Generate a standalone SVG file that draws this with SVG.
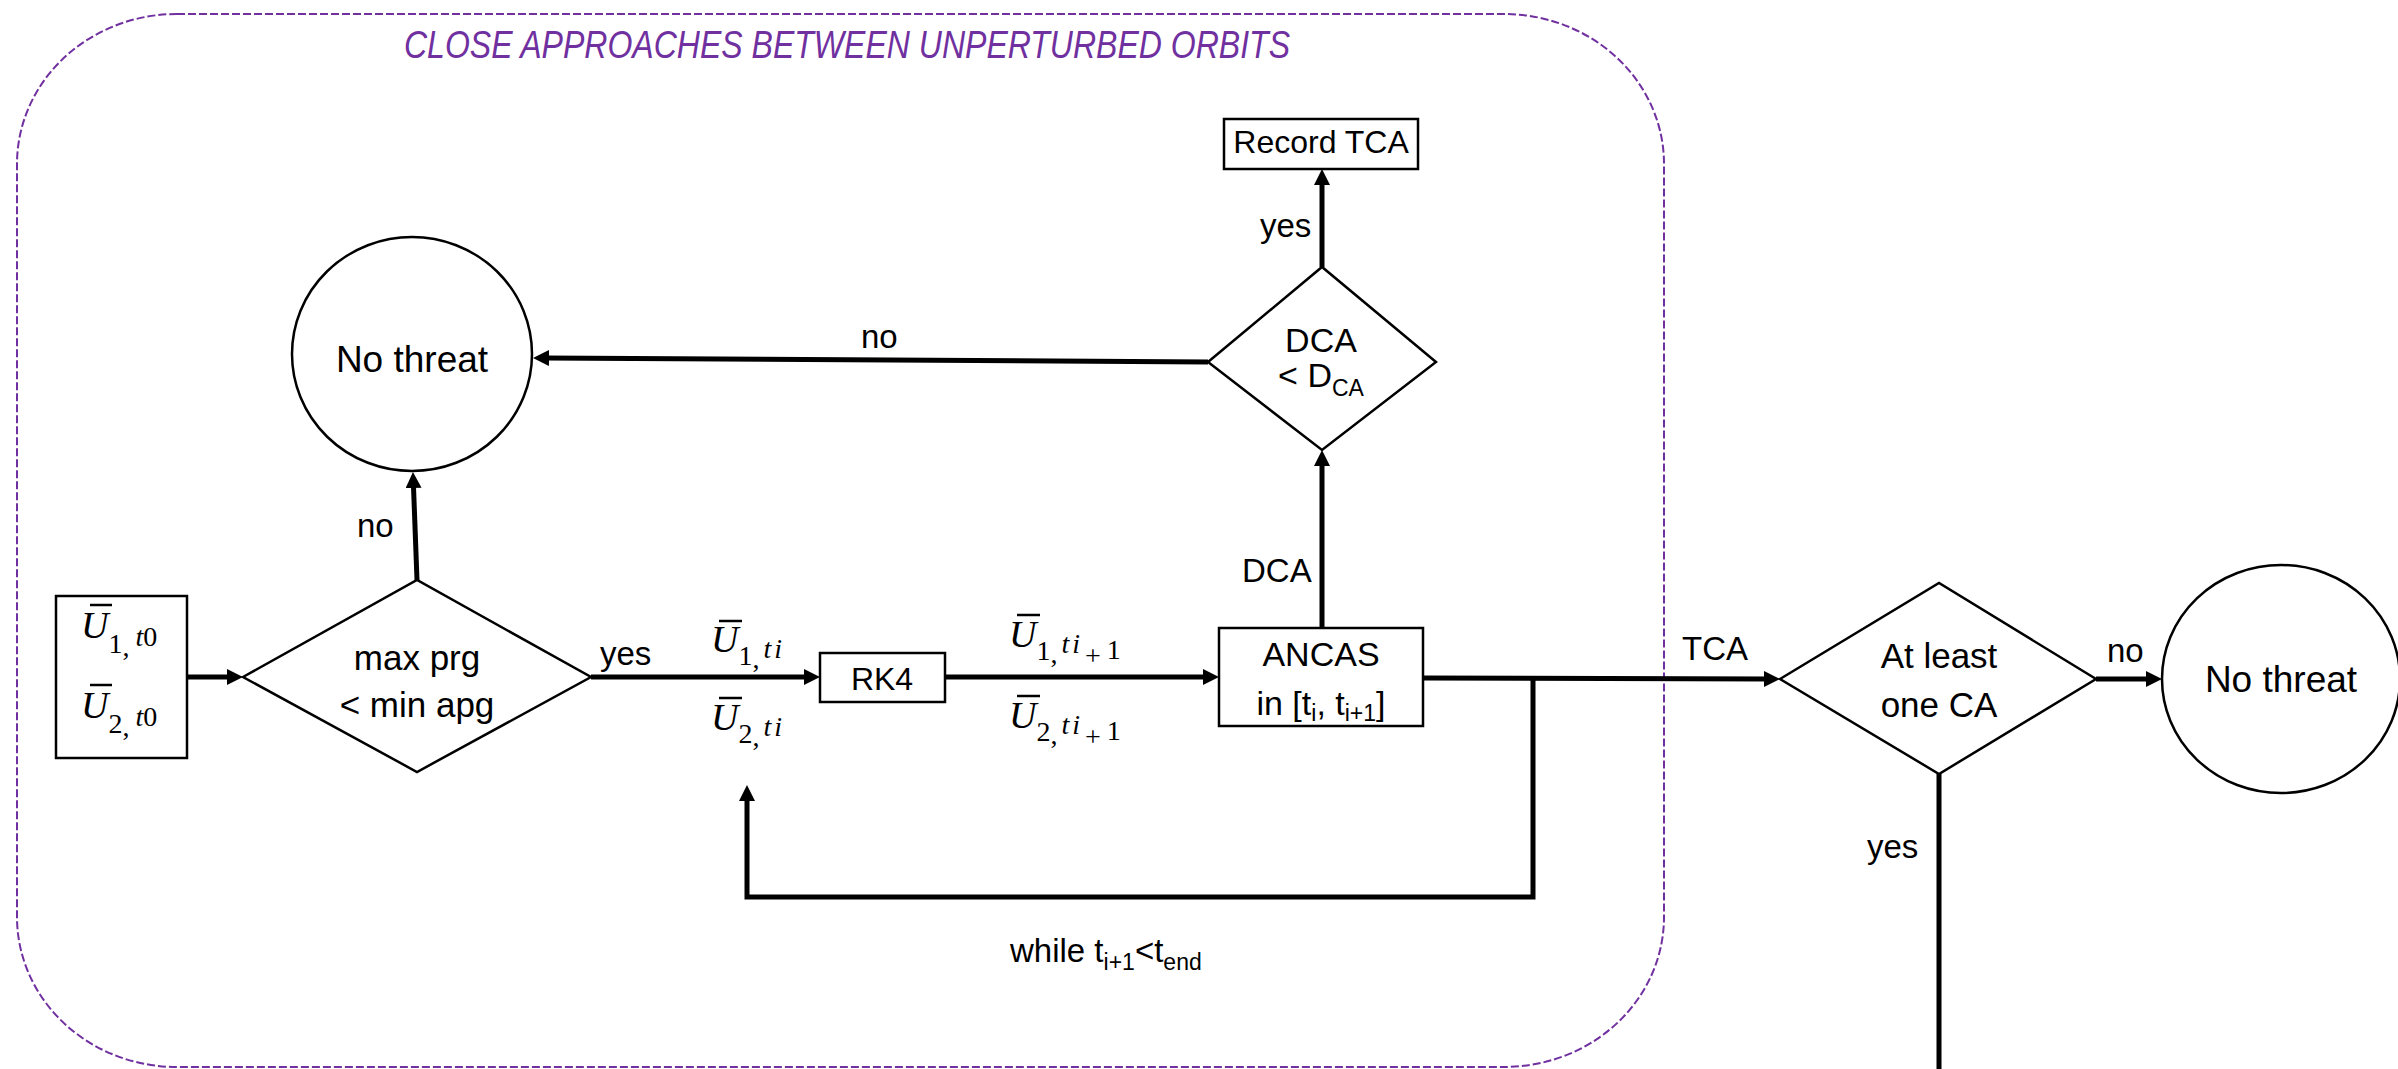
<svg xmlns="http://www.w3.org/2000/svg" width="2398" height="1069" viewBox="0 0 2398 1069">
<style>
  .t{font-family:"Liberation Sans",Arial,sans-serif;fill:#000;text-anchor:middle}
  .lbl{font-family:"Liberation Sans",Arial,sans-serif;fill:#000;font-size:33px}
  .shape{fill:#fff;stroke:#000;stroke-width:2.5}
  .conn{fill:none;stroke:#000;stroke-width:5}
  .m{font-family:"Liberation Serif","Times New Roman",serif;fill:#000;font-size:38px}
  .i{font-style:italic}
  .s{font-size:28px}
  .si{font-size:28px;font-style:italic;letter-spacing:3px}
  .bar{stroke:#000;stroke-width:2.5}
</style>
<defs>
  <marker id="ah" markerUnits="userSpaceOnUse" markerWidth="16" markerHeight="16" refX="4" refY="8" orient="auto">
    <path d="M0,0 L16,8 L0,16 z" fill="#000"/>
  </marker>
</defs>
<rect x="17" y="14" width="1647" height="1053" rx="160" ry="150" fill="none" stroke="#7030A0" stroke-width="2" stroke-dasharray="8 3"/>
<text x="404" y="58" font-family="'Liberation Sans',Arial,sans-serif" font-style="italic" font-size="38" fill="#7030A0" textLength="886" lengthAdjust="spacingAndGlyphs">CLOSE APPROACHES BETWEEN UNPERTURBED ORBITS</text>

<g id="connectors">
  <path class="conn" d="M187,677 H231" marker-end="url(#ah)"/>
  <path class="conn" d="M417,580 L413.4,484" marker-end="url(#ah)"/>
  <path class="conn" d="M591,677 H808" marker-end="url(#ah)"/>
  <path class="conn" d="M945,677 H1207" marker-end="url(#ah)"/>
  <path class="conn" d="M1322,628 V462" marker-end="url(#ah)"/>
  <path class="conn" d="M1322,267 V181" marker-end="url(#ah)"/>
  <path class="conn" d="M1208,362 L545,358" marker-end="url(#ah)"/>
  <path class="conn" d="M1423,678 L1768,679" marker-end="url(#ah)"/>
  <path class="conn" d="M1533,678 V897 H747 V797" marker-end="url(#ah)"/>
  <path class="conn" d="M2096,679 H2150" marker-end="url(#ah)"/>
  <path class="conn" d="M1939,774 V1069"/>
  <text class="lbl" x="357" y="537">no</text>
  <text class="lbl" x="600" y="665">yes</text>
  <text class="lbl" x="861" y="348">no</text>
  <text class="lbl" x="1260" y="237">yes</text>
  <text class="lbl" x="1242" y="582">DCA</text>
  <text class="lbl" x="1682" y="660">TCA</text>
  <text class="lbl" x="2107" y="662">no</text>
  <text class="lbl" x="1867" y="858">yes</text>
  <text class="lbl" x="1010" y="962" font-size="35">while t<tspan font-size="23" dy="8">i+1</tspan><tspan dy="-8">&lt;t</tspan><tspan font-size="23" dy="8">end</tspan></text>
  <g id="lbl-u-ti">
    <line class="bar" x1="719" y1="621" x2="742" y2="621"/>
    <text class="m" x="711" y="652"><tspan class="i">U</tspan><tspan class="s" dy="13">1</tspan><tspan class="s" dy="3">,</tspan><tspan class="si" dx="4" dy="-10">ti</tspan></text>
    <line class="bar" x1="719" y1="698" x2="742" y2="698"/>
    <text class="m" x="711" y="730"><tspan class="i">U</tspan><tspan class="s" dy="13">2</tspan><tspan class="s" dy="3">,</tspan><tspan class="si" dx="4" dy="-10">ti</tspan></text>
  </g>
  <g id="lbl-u-ti1">
    <line class="bar" x1="1017" y1="615" x2="1040" y2="615"/>
    <text class="m" x="1009" y="647"><tspan class="i">U</tspan><tspan class="s" dy="13">1</tspan><tspan class="s" dy="3">,</tspan><tspan class="si" dx="4" dy="-10">ti</tspan><tspan class="s" dx="2" dy="12">+</tspan><tspan class="s" dx="6" dy="-6">1</tspan></text>
    <line class="bar" x1="1017" y1="696" x2="1040" y2="696"/>
    <text class="m" x="1009" y="728"><tspan class="i">U</tspan><tspan class="s" dy="13">2</tspan><tspan class="s" dy="3">,</tspan><tspan class="si" dx="4" dy="-10">ti</tspan><tspan class="s" dx="2" dy="12">+</tspan><tspan class="s" dx="6" dy="-6">1</tspan></text>
  </g>
</g>

<g id="n-input">
  <rect class="shape" x="56" y="596" width="131" height="162"/>
  <line class="bar" x1="90" y1="605" x2="112" y2="605"/>
  <text class="m" x="81" y="638"><tspan class="i">U</tspan><tspan class="s" dy="15">1</tspan><tspan class="s" dy="3">,</tspan><tspan class="i s" dx="6" dy="-10">t</tspan><tspan class="s">0</tspan></text>
  <line class="bar" x1="90" y1="685" x2="112" y2="685"/>
  <text class="m" x="81" y="718"><tspan class="i">U</tspan><tspan class="s" dy="15">2</tspan><tspan class="s" dy="3">,</tspan><tspan class="i s" dx="6" dy="-10">t</tspan><tspan class="s">0</tspan></text>
</g>

<g id="n-check-prg">
  <polygon class="shape" points="243,677 417,580 591,677 417,772"/>
  <text class="t" x="417" y="670" font-size="35">max prg</text>
  <text class="t" x="417" y="717" font-size="35">&lt; min apg</text>
</g>

<g id="n-nothreat1">
  <ellipse class="shape" cx="412" cy="354" rx="120" ry="117"/>
  <text class="t" x="412" y="372" font-size="37">No threat</text>
</g>

<g id="n-rk4">
  <rect class="shape" x="820" y="653" width="125" height="49"/>
  <text class="t" x="882" y="690" font-size="32">RK4</text>
</g>

<g id="n-ancas">
  <rect class="shape" x="1219" y="628" width="204" height="98"/>
  <text class="t" x="1321" y="666" font-size="34">ANCAS</text>
  <text class="t" x="1321" y="715" font-size="34">in [t<tspan font-size="23" dy="6">i</tspan><tspan dy="-6">, t</tspan><tspan font-size="23" dy="6">i+1</tspan><tspan dy="-6">]</tspan></text>
</g>

<g id="n-dca">
  <polygon class="shape" points="1208,362 1322,267 1436,362 1322,450"/>
  <text class="t" x="1321" y="352" font-size="34">DCA</text>
  <text class="t" x="1321" y="387" font-size="34">&lt; D<tspan font-size="23" dy="9">CA</tspan></text>
</g>

<g id="n-record">
  <rect class="shape" x="1224" y="119" width="194" height="50"/>
  <text class="t" x="1321" y="153" font-size="32">Record TCA</text>
</g>

<g id="n-atleast">
  <polygon class="shape" points="1780,679 1939,583 2096,679 1939,774"/>
  <text class="t" x="1939" y="668" font-size="35">At least</text>
  <text class="t" x="1939" y="717" font-size="35">one CA</text>
</g>

<g id="n-nothreat2">
  <ellipse class="shape" cx="2281" cy="679" rx="119" ry="114"/>
  <text class="t" x="2281" y="692" font-size="37">No threat</text>
</g>
</svg>
